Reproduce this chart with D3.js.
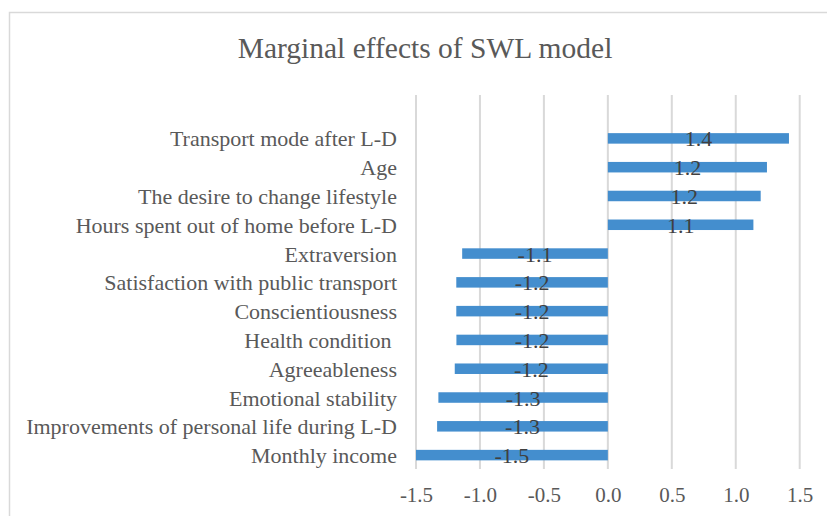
<!DOCTYPE html>
<html>
<head>
<meta charset="utf-8">
<script src="https://cdn.jsdelivr.net/npm/d3@7/dist/d3.min.js"></script>
<style>
  html, body { margin: 0; padding: 0; background: #fff; }
  svg { display: block; }
  text { font-family: "Liberation Serif", "Times New Roman", serif; }
</style>
</head>
<body>
<svg id="chart" width="827" height="516"></svg>
<script>
const categories = [
  "Transport mode after L-D",
  "Age",
  "The desire to change lifestyle",
  "Hours spent out of home before L-D",
  "Extraversion",
  "Satisfaction with public transport",
  "Conscientiousness",
  "Health condition ",
  "Agreeableness",
  "Emotional stability",
  "Improvements of personal life during L-D",
  "Monthly income"
];
const values = [1.416, 1.244, 1.195, 1.138, -1.139, -1.185, -1.185, -1.184, -1.197, -1.325, -1.335, -1.50];
const valueLabels = ["1.4", "1.2", "1.2", "1.1", "-1.1", "-1.2", "-1.2", "-1.2", "-1.2", "-1.3", "-1.3", "-1.5"];
const tickValues = [-1.5, -1.0, -0.5, 0.0, 0.5, 1.0, 1.5];
const title = "Marginal effects of SWL model";

const svg = d3.select("#chart");

// chart border
svg.append("rect")
  .attr("x", 9.5).attr("y", 12.5)
  .attr("width", 840).attr("height", 520)
  .attr("fill", "#fff").attr("stroke", "#d9d9d9").attr("stroke-width", 1.5);

const x = d3.scaleLinear().domain([-1.5, 1.5]).range([416, 799.7]);
const y = d3.scaleBand().domain(categories).range([124, 469.5])
  .paddingInner(0.635).paddingOuter(0.3175);

const plotTop = 95, plotBottom = 469;

// gridlines
svg.append("g").selectAll("line")
  .data(tickValues).join("line")
  .attr("x1", d => x(d)).attr("x2", d => x(d))
  .attr("y1", plotTop).attr("y2", plotBottom)
  .attr("stroke", "#d9d9d9").attr("stroke-width", 2);

// x tick labels
const xAxis = d3.axisBottom(x).tickValues(tickValues).tickFormat(d3.format(".1f")).tickSize(0).tickPadding(0);
const gx = svg.append("g").attr("transform", `translate(0,${plotBottom})`).call(xAxis);
gx.select(".domain").remove();
gx.selectAll("text")
  .attr("y", 33).attr("dy", 0)
  .attr("fill", "#595959")
  .style("font-size", "21px")
  .style("font-family", '"Liberation Serif", serif')
  .text(d => d3.format(".1f")(d).replace("−", "-"));

// bars
svg.append("g").selectAll("rect")
  .data(values).join("rect")
  .attr("x", d => x(Math.min(0, d)))
  .attr("width", d => Math.abs(x(d) - x(0)))
  .attr("y", (d, i) => y(categories[i]))
  .attr("height", y.bandwidth())
  .attr("fill", "#448ECE");

// category labels
svg.append("g").selectAll("text")
  .data(categories).join("text")
  .attr("x", 397)
  .attr("y", d => y(d) + y.bandwidth() / 2 + 8)
  .attr("text-anchor", "end")
  .attr("fill", "#595959")
  .style("font-size", "22px")
  .style("white-space", "pre")
  .text(d => d);

// data labels
svg.append("g").selectAll("text")
  .data(values).join("text")
  .attr("x", d => (x(d) + x(0)) / 2)
  .attr("y", (d, i) => y(categories[i]) + y.bandwidth() / 2 + 8)
  .attr("text-anchor", "middle")
  .attr("fill", "#404040")
  .style("font-size", "22px")
  .text((d, i) => valueLabels[i]);

// title
svg.append("text")
  .attr("x", 425).attr("y", 58)
  .attr("text-anchor", "middle")
  .attr("fill", "#595959")
  .style("font-size", "29.5px")
  .text(title);
</script>
</body>
</html>
